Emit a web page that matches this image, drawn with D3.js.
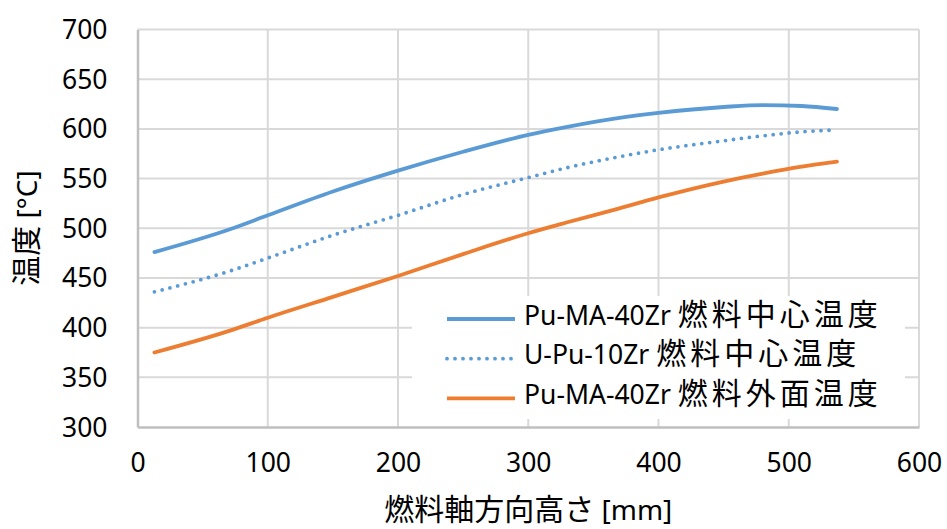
<!DOCTYPE html>
<html>
<head>
<meta charset="utf-8">
<script src="https://cdn.jsdelivr.net/npm/d3@7"></script>
<style>
  body { margin: 0; background: #fff; }
  text { font-family: "Noto Sans", "Noto Sans CJK JP", sans-serif; fill: #000; }
</style>
</head>
<body>
<script>
// axial height [mm]
const heights = [13, 71, 100, 150, 200, 250, 300, 330, 370, 400, 450, 480, 510, 537];
// temperatures [°C]
const puCenter  = [476, 499, 513, 537, 558, 577, 594, 602, 611, 616, 622, 624, 623, 620];
const uCenter   = [436, 457, 470, 493, 513, 534, 551, 561, 572, 579, 588, 593, 597, 599];
const puSurface = [375, 397, 410, 431, 452, 474, 495, 506, 520, 531, 547, 555, 562, 567];

const seriesNames = ["Pu-MA-40Zr 燃料中心温度", "U-Pu-10Zr 燃料中心温度", "Pu-MA-40Zr 燃料外面温度"];
const seriesColors = ["#5b9bd5", "#5b9bd5", "#ed7d31"];
const xTicks = [0, 100, 200, 300, 400, 500, 600];
const yTicks = [300, 350, 400, 450, 500, 550, 600, 650, 700];

const width = 947, height = 529;
const margin = {left: 137.5, right: 28, top: 29.5, bottom: 102};

const svg = d3.select("body")
    .append("svg")
    .attr("width", width)
    .attr("height", height);

const x = d3.scaleLinear().domain([0, 600]).range([margin.left, width - margin.right]);
const y = d3.scaleLinear().domain([300, 700]).range([height - margin.bottom, margin.top]);

// grid
svg.append("g")
    .attr("stroke", "#d9d9d9")
    .attr("stroke-width", 2)
    .selectAll("line.h")
    .data(yTicks.slice(1))
    .join("line")
    .attr("x1", x(0)).attr("x2", x(600))
    .attr("y1", d => y(d)).attr("y2", d => y(d));

svg.append("g")
    .attr("stroke", "#d9d9d9")
    .attr("stroke-width", 2)
    .selectAll("line.v")
    .data(xTicks.slice(1))
    .join("line")
    .attr("x1", d => x(d)).attr("x2", d => x(d))
    .attr("y1", y(300)).attr("y2", y(700));

// axes
const xAxis = svg.append("g")
    .attr("transform", `translate(0,${y(300)})`)
    .call(d3.axisBottom(x).tickValues(xTicks).tickSize(0).tickPadding(26));
const yAxis = svg.append("g")
    .attr("transform", `translate(${x(0)},0)`)
    .call(d3.axisLeft(y).tickValues(yTicks).tickSize(0).tickPadding(30));

[xAxis, yAxis].forEach(a => {
    a.select(".domain").attr("stroke", "#bfbfbf").attr("stroke-width", 2.5);
    a.selectAll("text").attr("font-size", 26.5).attr("font-family", "Noto Sans");
});
yAxis.selectAll("text").attr("dy", "0.34em");

// lines
const data = [puCenter, uCenter, puSurface];
const line = d3.line()
    .x((d, i) => x(heights[i]))
    .y(d => y(d))
    .curve(d3.curveMonotoneX);

svg.append("g")
    .attr("fill", "none")
    .selectAll("path")
    .data(data)
    .join("path")
    .attr("d", line)
    .attr("stroke", (d, i) => seriesColors[i])
    .attr("stroke-width", 3.8)
    .attr("stroke-linecap", "round")
    .attr("stroke-dasharray", (d, i) => i === 1 ? "0 8" : null);

// legend
const legend = svg.append("g");
legend.append("rect")
    .attr("x", 412).attr("y", 296)
    .attr("width", 493).attr("height", 123)
    .attr("fill", "#fff");

const rows = legend.selectAll("g.row")
    .data(seriesNames)
    .join("g")
    .attr("transform", (d, i) => `translate(447,${319 + i * 39.7})`);

rows.append("line")
    .attr("x1", 0).attr("x2", 68)
    .attr("stroke", (d, i) => seriesColors[i])
    .attr("stroke-width", 3.8)
    .attr("stroke-linecap", (d, i) => i === 1 ? "round" : "butt")
    .attr("stroke-dasharray", (d, i) => i === 1 ? "0 8" : null);

const labels = rows.append("text")
    .attr("x", 77)
    .attr("dy", "0.36em");
labels.append("tspan")
    .attr("font-size", 26.5)
    .text(d => d.split(" ")[0] + " ");
labels.append("tspan")
    .attr("font-family", "Noto Sans CJK JP")
    .attr("font-size", 30)
    .attr("letter-spacing", 4)
    .text(d => d.split(" ")[1]);

// axis titles
const xTitle = svg.append("text")
    .attr("x", x(300))
    .attr("y", 520)
    .attr("text-anchor", "middle");
xTitle.append("tspan").attr("font-family", "Noto Sans CJK JP").attr("font-size", 30).text("燃料軸方向高さ");
xTitle.append("tspan").attr("font-size", 28).text(" [mm]");

const yTitle = svg.append("text")
    .attr("transform", `translate(37,228) rotate(-90)`)
    .attr("text-anchor", "middle");
yTitle.append("tspan").attr("font-family", "Noto Sans CJK JP").attr("font-size", 30).text("温度");
yTitle.append("tspan").attr("font-size", 28).text(" [°C]");
</script>
</body>
</html>
